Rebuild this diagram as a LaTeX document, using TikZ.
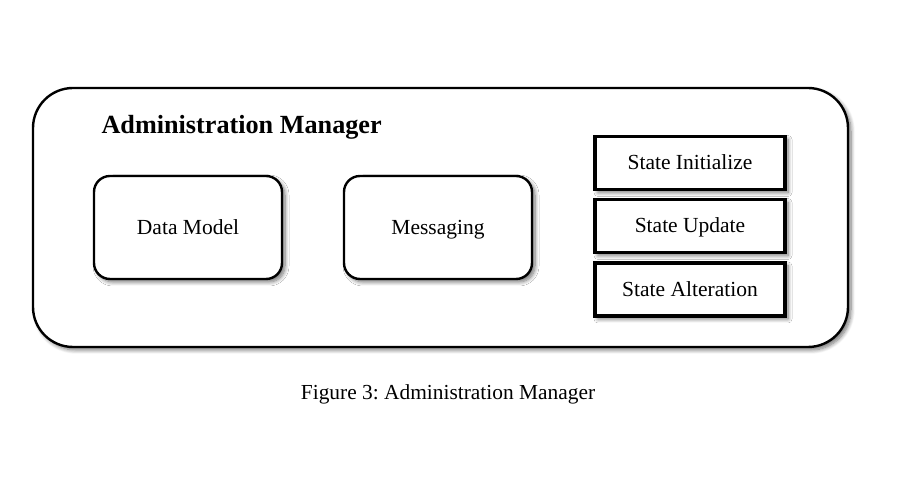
\documentclass[tikz,border=0pt]{standalone}
\usepackage{fontspec}
\setmainfont{Liberation Serif}
\usetikzlibrary{shadows.blur}
\frenchspacing
\begin{document}
\begin{tikzpicture}[x=1pt,y=1pt,
  myshadow/.style={blur shadow={shadow xshift=3pt, shadow yshift=-3pt, shadow blur steps=8, shadow blur radius=4pt, shadow opacity=55}},
  outerbox/.style={draw=black, line width=2.4pt, rounded corners=40pt, fill=white,
    minimum width=815pt, minimum height=259pt, myshadow},
  txt/.style={font=\fontsize{21.5}{25}\selectfont, text height=16pt, text depth=2pt},
  roundbox/.style={draw=black, line width=2.4pt, rounded corners=16pt, fill=white,
    minimum width=188pt, minimum height=103pt, txt, myshadow},
  statebox/.style={draw=black, line width=3.2pt, fill=white,
    minimum width=190pt, minimum height=53pt, txt, myshadow}
]
\useasboundingbox (0,0) rectangle (900,500);
\node[outerbox] (outer) at (440.5,282.5) {};
\node[anchor=west, font=\fontsize{26.2}{30}\selectfont\bfseries] (title) at (98,373) {Administration Manager};
\node[roundbox] (dm) at (188,272.5) {Data Model};
\node[roundbox] (msg) at (438,272.5) {Messaging};
\node[statebox] (si) at (690,337) {State Initialize};
\node[statebox] (su) at (690,274) {State Update};
\node[statebox] (sa) at (690,210.5) {State Alteration};
\node[txt, font=\fontsize{21.4}{25}\selectfont] (cap) at (448,107) {Figure 3: Administration Manager};
\end{tikzpicture}
\end{document}
